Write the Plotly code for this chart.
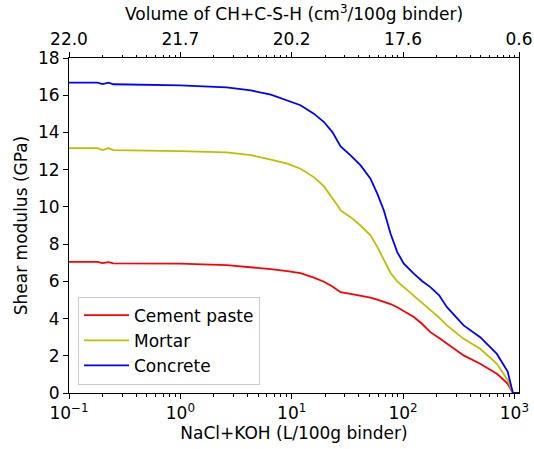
import plotly.graph_objects as go

# NaCl+KOH (L/100g binder)
x_vals = [0.1, 0.18, 0.2, 0.227, 0.25, 0.5, 1, 2.6, 4.3, 6.5, 9.1, 12, 15.8, 19.5, 23.2, 26, 27.5,
          33.8, 41.6, 51, 58.7, 67.3, 77.3, 88.7, 101.6, 125, 148, 176, 211, 248, 295, 350,
          493, 696, 870, 970, 1100]

cement_paste = [7.05, 7.05, 6.98, 7.03, 6.97, 6.97, 6.95, 6.87, 6.77, 6.66, 6.55, 6.44, 6.20, 5.98, 5.72, 5.52, 5.42,
                5.33, 5.24, 5.12, 5.02, 4.92, 4.78, 4.61, 4.40, 4.08, 3.72, 3.27, 2.95, 2.65, 2.32, 2.02,
                1.57, 1.03, 0.50, 0.0, 0.0]
mortar = [13.16, 13.16, 13.05, 13.16, 13.05, 13.04, 13.00, 12.93, 12.78, 12.54, 12.32, 12.05, 11.60, 11.10, 10.50, 10.05, 9.81,
          9.45, 9.00, 8.47, 7.85, 7.15, 6.45, 6.00, 5.70, 5.24, 4.85, 4.44, 4.05, 3.63, 3.25, 2.91,
          2.38, 1.57, 0.70, 0.0, 0.0]
concrete = [16.68, 16.68, 16.60, 16.68, 16.59, 16.57, 16.53, 16.42, 16.26, 16.03, 15.74, 15.46, 15.01, 14.56, 14.02, 13.48, 13.25,
            12.77, 12.23, 11.52, 10.71, 9.81, 8.56, 7.57, 6.95, 6.41, 6.02, 5.69, 5.25, 4.61, 4.10, 3.63,
            3.00, 2.10, 1.15, 0.0, 0.0]

series_names = ["Cement paste", "Mortar", "Concrete"]
series_colors = ["#ff0000", "#bfbf00", "#0000ff"]

bottom_tickvals = [0.1, 1, 10, 100, 1000]
bottom_ticktext = ["10<sup>−1</sup>", "10<sup>0</sup>", "10<sup>1</sup>", "10<sup>2</sup>", "10<sup>3</sup>"]
top_tickvals = [0.1, 1, 10, 100, 1100]
top_ticktext = ["22.0", "21.7", "20.2", "17.6", "0.6"]
y_tickvals = list(range(0, 19, 2))

x_range_log = [-1, 3.0414]

FONT = "DejaVu Sans"
FS = 17

fig = go.Figure()
for name, vals, col in zip(series_names, [cement_paste, mortar, concrete], series_colors):
    fig.add_trace(go.Scatter(x=x_vals, y=vals, mode="lines", name=name,
                             line=dict(color=col, width=1.8)))

# invisible trace to anchor the top axis
fig.add_trace(go.Scatter(x=x_vals, y=concrete, xaxis="x2", mode="lines",
                         line=dict(color="rgba(0,0,0,0)"), showlegend=False, hoverinfo="skip"))

axis_common = dict(showline=True, linecolor="black", linewidth=1, ticks="outside",
                   ticklen=5, tickwidth=1, tickcolor="black", showgrid=False, zeroline=False,
                   automargin=False,
                   tickfont=dict(family=FONT, size=FS, color="black"))

fig.update_layout(
    width=534, height=449,
    margin=dict(l=69, r=15, t=58, b=56),
    paper_bgcolor="white", plot_bgcolor="white",
    font=dict(family=FONT, size=FS, color="black"),
    xaxis=dict(type="log", range=x_range_log, tickmode="array", tickvals=bottom_tickvals,
               ticktext=bottom_ticktext,
               minor=dict(ticks="outside", ticklen=2.5, tickcolor="black", dtick="D1"),
               title=dict(text="NaCl+KOH (L/100g binder)", font=dict(family=FONT, size=FS), standoff=2),
               **axis_common),
    xaxis2=dict(type="log", range=x_range_log, overlaying="x", side="top", tickmode="array",
                tickvals=top_tickvals, ticktext=top_ticktext,
                minor=dict(ticks="outside", ticklen=2.5, tickcolor="black", dtick="D1"),
                title=dict(text="Volume of CH+C-S-H (cm<sup>3</sup>/100g binder)",
                           font=dict(family=FONT, size=FS), standoff=4),
                **axis_common),
    yaxis=dict(range=[0, 18], tickmode="array", tickvals=y_tickvals, mirror=True,
               title=dict(text="Shear modulus (GPa)", font=dict(family=FONT, size=FS), standoff=6),
               **axis_common),
    legend=dict(x=0.02, y=0.025, xanchor="left", yanchor="bottom",
                bgcolor="rgba(255,255,255,0.8)", bordercolor="#cccccc", borderwidth=1,
                font=dict(family=FONT, size=FS, color="black"),
                tracegroupgap=0, itemwidth=45),
    showlegend=True,
)

fig.write_html("out.html", config={"displayModeBar": False},
               post_script="document.body.style.margin='0px';")
